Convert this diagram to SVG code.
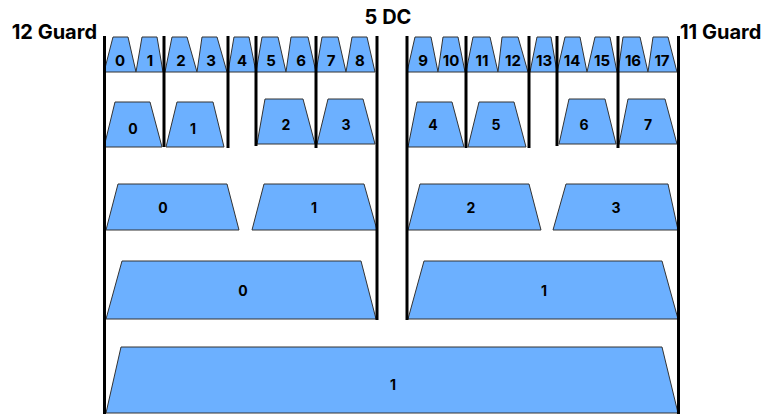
<svg xmlns="http://www.w3.org/2000/svg" width="761" height="414" viewBox="0 0 761 414">
<style>
.t{fill:#6cb0ff;stroke:#333;stroke-width:1;stroke-linejoin:round}
.n{font-family:Inter,"Liberation Sans",sans-serif;font-weight:700;fill:#000;text-anchor:middle}
.s{font-size:15px}
.m{font-size:14px}
.h{font-family:Inter,"Liberation Sans",sans-serif;font-weight:700;font-size:20px;fill:#000}
.d{stroke:#000;stroke-width:3;fill:none}
</style>
<rect width="761" height="414" fill="#fff"/>
<g id="labels">
<text class="h" x="97" y="39" text-anchor="end">12 Guard</text>
<text class="h" x="388" y="24" text-anchor="middle">5 DC</text>
<text class="h" x="680" y="39">11 Guard</text>
</g>
<g id="row1">
<g id="r1-0"><path class="t" d="M104 72L113 37H128L136 72Z"/><text class="n s" x="120" y="66">0</text></g>
<g id="r1-1"><path class="t" d="M136 72L142 37H157L163 72Z"/><text class="n s" x="150" y="66">1</text></g>
<g id="r1-2"><path class="t" d="M165 72L172 37H187L197 72Z"/><text class="n s" x="181" y="66">2</text></g>
<g id="r1-3"><path class="t" d="M197 72L202 37H217L227 72Z"/><text class="n s" x="211" y="66">3</text></g>
<g id="r1-4"><path class="t" d="M228 72L234 37H249L256 72Z"/><text class="n s" x="242" y="66">4</text></g>
<g id="r1-5"><path class="t" d="M256 72L262 37H278L286 72Z"/><text class="n s" x="271" y="66">5</text></g>
<g id="r1-6"><path class="t" d="M286 72L291 37H308L316 72Z"/><text class="n s" x="301" y="66">6</text></g>
<g id="r1-7"><path class="t" d="M316 72L322 37H338L346 72Z"/><text class="n s" x="331" y="66">7</text></g>
<g id="r1-8"><path class="t" d="M346 72L352 37H367L375 72Z"/><text class="n s" x="360" y="66">8</text></g>
<g id="r1-9"><path class="t" d="M407 72L415 37H431L438 72Z"/><text class="n s" x="423" y="66">9</text></g>
<g id="r1-10"><path class="t" d="M438 72L443 37H458L465 72Z"/><text class="n s" x="451" y="66">10</text></g>
<g id="r1-11"><path class="t" d="M466 72L473 37H490L498 72Z"/><text class="n s" x="482" y="66">11</text></g>
<g id="r1-12"><path class="t" d="M498 72L502 37H518L528 72Z"/><text class="n s" x="513" y="66">12</text></g>
<g id="r1-13"><path class="t" d="M530 72L537 37H551L557 72Z"/><text class="n s" x="544" y="66">13</text></g>
<g id="r1-14"><path class="t" d="M557 72L565 37H580L587 72Z"/><text class="n s" x="572" y="66">14</text></g>
<g id="r1-15"><path class="t" d="M587 72L595 37H610L617 72Z"/><text class="n s" x="602" y="66">15</text></g>
<g id="r1-16"><path class="t" d="M618 72L623 37H640L648 72Z"/><text class="n s" x="633" y="66">16</text></g>
<g id="r1-17"><path class="t" d="M648 72L653 37H668L677 72Z"/><text class="n s" x="662" y="66">17</text></g>
</g>
<g id="row2">
<g id="r2-0"><path class="t" d="M104 147L115 102H150L162 147Z"/><text class="n m" x="133" y="134">0</text></g>
<g id="r2-1"><path class="t" d="M166 147L177 102H213L224 147Z"/><text class="n m" x="193" y="134">1</text></g>
<g id="r2-2"><path class="t" d="M257 144L265 99H303L315 144Z"/><text class="n m" x="286" y="130">2</text></g>
<g id="r2-3"><path class="t" d="M317 144L328 99H363L375 144Z"/><text class="n m" x="346" y="130">3</text></g>
<g id="r2-4"><path class="t" d="M408 147L417 102H452L464 147Z"/><text class="n m" x="433" y="130">4</text></g>
<g id="r2-5"><path class="t" d="M468 147L479 102H514L526 147Z"/><text class="n m" x="496" y="130">5</text></g>
<g id="r2-6"><path class="t" d="M559 144L569 99H605L616 144Z"/><text class="n m" x="584" y="130">6</text></g>
<g id="r2-7"><path class="t" d="M619 144L628 99H665L677 144Z"/><text class="n m" x="648" y="130">7</text></g>
</g>
<g id="row3">
<g id="r3-0"><path class="t" d="M106 230L118 184H227L239 230Z"/><text class="n m" x="163" y="213">0</text></g>
<g id="r3-1"><path class="t" d="M252 230L264 184H364L377 230Z"/><text class="n m" x="314" y="213">1</text></g>
<g id="r3-2"><path class="t" d="M408 230L420 184H529L541 230Z"/><text class="n m" x="471" y="213">2</text></g>
<g id="r3-3"><path class="t" d="M553 230L566 184H668L678 230Z"/><text class="n m" x="616" y="213">3</text></g>
</g>
<g id="row4">
<g id="r4-0"><path class="t" d="M106 319L122 261H361L376 319Z"/><text class="n m" x="243" y="296">0</text></g>
<g id="r4-1"><path class="t" d="M408 319L424 261H662L678 319Z"/><text class="n m" x="544" y="296">1</text></g>
</g>
<g id="row5">
<g id="r5-1"><path class="t" d="M106 413L121 347H662L678 413Z"/><text class="n m" x="393" y="390">1</text></g>
</g>
<g id="dividers">
<line class="d" x1="104.5" y1="36" x2="104.5" y2="414"/>
<line class="d" x1="164" y1="36" x2="164" y2="147"/>
<line class="d" x1="228" y1="36" x2="228" y2="148"/>
<line class="d" x1="256" y1="36" x2="256" y2="146"/>
<line class="d" x1="316" y1="36" x2="316" y2="148"/>
<line class="d" x1="377" y1="36" x2="377" y2="320"/>
<line class="d" x1="407" y1="36" x2="407" y2="320"/>
<line class="d" x1="466" y1="36" x2="466" y2="148"/>
<line class="d" x1="529" y1="36" x2="529" y2="148"/>
<line class="d" x1="557" y1="36" x2="557" y2="146"/>
<line class="d" x1="618" y1="36" x2="618" y2="148"/>
<line class="d" x1="678.5" y1="36" x2="678.5" y2="414"/>
</g>
</svg>
